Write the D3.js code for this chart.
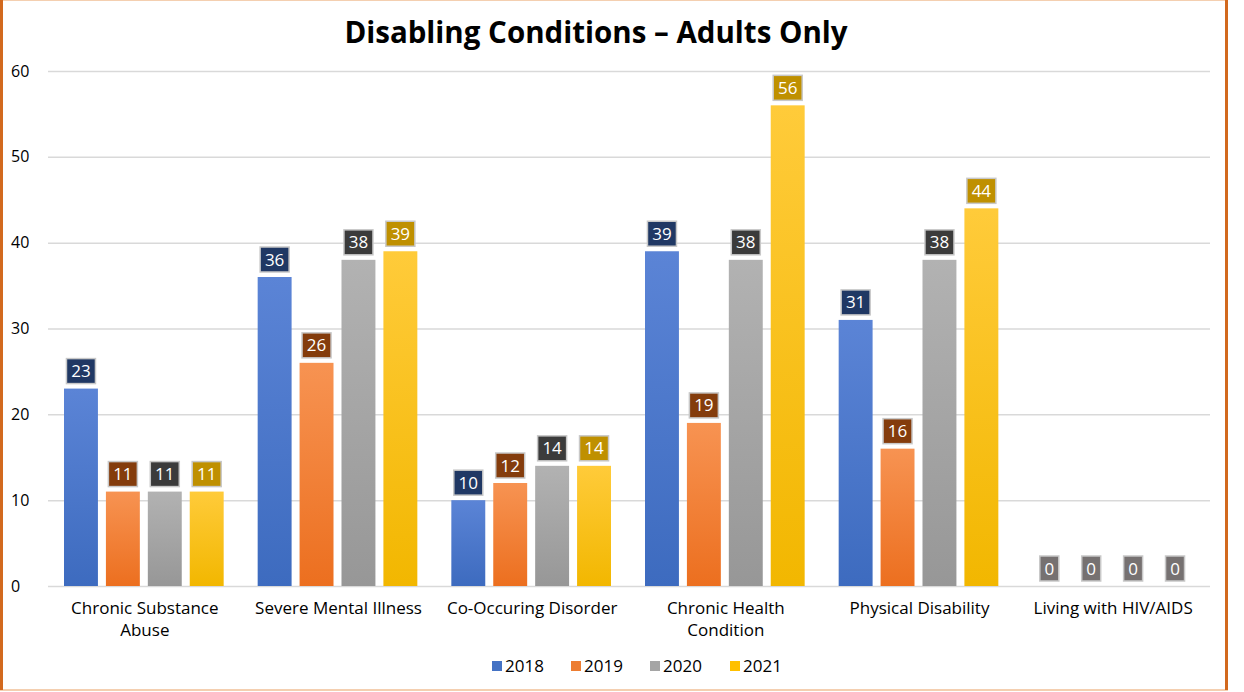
<!DOCTYPE html>
<html>
<head>
<meta charset="utf-8">
<script src="https://cdn.jsdelivr.net/npm/d3@7"></script>
<style>
  html, body { margin: 0; padding: 0; background: #fff; }
  svg { display: block; }
  text { font-family: "Open Sans", "Lato", sans-serif; }
</style>
</head>
<body>
<svg id="chart" width="1244" height="692"></svg>
<script>
// Disabling conditions reported by adults, per year
const categories = [
  ["Chronic Substance", "Abuse"],
  ["Severe Mental Illness"],
  ["Co-Occuring Disorder"],
  ["Chronic Health", "Condition"],
  ["Physical Disability"],
  ["Living with HIV/AIDS"]
];
const years = ["2018", "2019", "2020", "2021"];
const values2018 = [23, 36, 10, 39, 31, 0];
const values2019 = [11, 26, 12, 19, 16, 0];
const values2020 = [11, 38, 14, 38, 38, 0];
const values2021 = [11, 39, 14, 56, 44, 0];
const yTicks = [0, 10, 20, 30, 40, 50, 60];

const seriesValues = [values2018, values2019, values2020, values2021];
const barTop = ["#5b84d6", "#f79352", "#b2b2b2", "#ffcb3a"];
const barBottom = ["#3d6bbf", "#ec6f1f", "#979797", "#f2b700"];
const labelFill = ["#203864", "#843c0c", "#3b3b3b", "#bf9000"];
const legendFill = ["#4472c4", "#ed7d31", "#a5a5a5", "#ffc000"];

const svg = d3.select("#chart");
const margin = { left: 48 };

// Outer frame
svg.append("rect").attr("x", 0).attr("y", 0).attr("width", 1227).attr("height", 690)
  .attr("fill", "#fff").attr("stroke", "#f4cfb0").attr("stroke-width", 2);
svg.append("line").attr("x1", 1.5).attr("x2", 1.5).attr("y1", 0).attr("y2", 690)
  .attr("stroke", "#d2691e").attr("stroke-width", 3);
svg.append("line").attr("x1", 1226.5).attr("x2", 1226.5).attr("y1", 0).attr("y2", 690)
  .attr("stroke", "#d2691e").attr("stroke-width", 3);

const defs = svg.append("defs");
years.forEach((y, i) => {
  const g = defs.append("linearGradient").attr("id", "grad" + i)
    .attr("x1", 0).attr("y1", 0).attr("x2", 0).attr("y2", 1);
  g.append("stop").attr("offset", "0%").attr("stop-color", barTop[i]);
  g.append("stop").attr("offset", "100%").attr("stop-color", barBottom[i]);
});

const x0 = d3.scaleBand().domain(d3.range(categories.length))
  .range([margin.left, 1210]).paddingInner(0).paddingOuter(0);
const x1 = d3.scaleBand().domain(d3.range(years.length))
  .range([16, x0.bandwidth() - 18]).paddingInner(8 / 42).paddingOuter(0);
const y = d3.scaleLinear().domain([0, 60]).range([586, 71]);

// Title
svg.append("text").attr("x", 596).attr("y", 43).attr("text-anchor", "middle")
  .attr("font-size", 29.5).attr("font-weight", "bold").attr("fill", "#000")
  .text("Disabling Conditions – Adults Only");

// Gridlines and y-axis labels
const yAxis = d3.axisLeft(y).tickValues(yTicks).tickSize(-(1210 - margin.left)).tickPadding(14);
const ga = svg.append("g").attr("transform", `translate(${margin.left},0)`).call(yAxis);
ga.select(".domain").remove();
ga.selectAll(".tick line").attr("stroke", "#d9d9d9").attr("stroke-width", 1.5);
ga.selectAll(".tick text").attr("font-size", 16).attr("fill", "#000")
  .attr("text-anchor", "start").attr("x", -37);

// Bars with value labels
const groups = svg.append("g").selectAll("g").data(categories).join("g")
  .attr("transform", (d, i) => `translate(${x0(i)},0)`);

groups.each(function (cat, ci) {
  const g = d3.select(this);
  years.forEach((yr, si) => {
    const v = seriesValues[si][ci];
    const bx = x1(si), bw = x1.bandwidth();
    if (v > 0) {
      g.append("rect").attr("x", bx).attr("y", y(v)).attr("width", bw)
        .attr("height", y(0) - y(v)).attr("fill", `url(#grad${si})`);
    }
    const lh = 25;
    const ly = y(v) - 5 - lh;
    const fill = v === 0 ? "#767171" : labelFill[si];
    const lwv = v === 0 ? 19 : 29;
    g.append("rect").attr("x", bx + bw / 2 - lwv / 2).attr("y", ly)
      .attr("width", lwv).attr("height", lh).attr("fill", fill)
      .attr("stroke", "#c8c8c8").attr("stroke-width", 1.5);
    g.append("text").attr("x", bx + bw / 2).attr("y", ly + lh / 2 + 6)
      .attr("text-anchor", "middle").attr("font-size", 17).attr("fill", "#fff")
      .text(v);
  });
});

// Category labels
const xAxisG = svg.append("g");
categories.forEach((lines, i) => {
  const cx = x0(i) + x0.bandwidth() / 2;
  lines.forEach((ln, j) => {
    xAxisG.append("text").attr("x", cx).attr("y", 614 + j * 22)
      .attr("text-anchor", "middle").attr("font-size", 17).attr("fill", "#000").text(ln);
  });
});

// Legend
const legendX = [492, 571, 650, 730];
const legend = svg.append("g");
years.forEach((yr, i) => {
  legend.append("rect").attr("x", legendX[i]).attr("y", 661).attr("width", 10).attr("height", 10)
    .attr("fill", legendFill[i]);
  legend.append("text").attr("x", legendX[i] + 13).attr("y", 672).attr("font-size", 17)
    .attr("fill", "#000").text(yr);
});
</script>
</body>
</html>
